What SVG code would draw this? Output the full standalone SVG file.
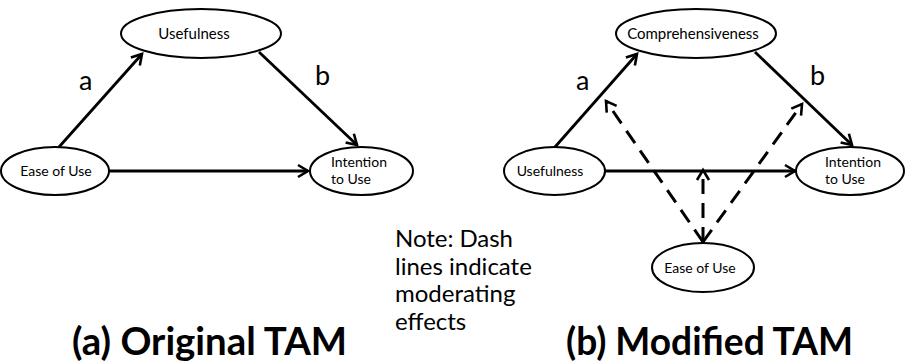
<svg xmlns="http://www.w3.org/2000/svg" width="906" height="363" viewBox="0 0 906 363">
<style>
.node ellipse{fill:#fff;stroke:#000;stroke-width:2}
.t{font-family:Lato,"Liberation Sans",sans-serif;fill:#000}
.small{font-size:14px}
.big{font-size:15px}
.lbl{font-size:27px}
.note{font-size:24px}
.title{font-size:39px;font-weight:bold}
.edge{stroke:#000;stroke-width:2.8;fill:none;marker-end:url(#arr)}
.dash{stroke-dasharray:15 9;stroke-width:3}
</style>
<defs>
<marker id="arr" markerUnits="userSpaceOnUse" markerWidth="16" markerHeight="16" viewBox="0 0 16 16" refX="13" refY="8" orient="auto">
<path d="M3,2 L13,8 L3,14" fill="none" stroke="#000" stroke-width="2.6"/>
</marker>
</defs>
<rect width="906" height="363" fill="#fff"/>
<g id="connectors">
<line class="edge" x1="59" y1="147" x2="142" y2="54"/>
<line class="edge" x1="259" y1="52" x2="357" y2="145"/>
<line class="edge" x1="109" y1="171" x2="308" y2="171"/>
<line class="edge" x1="555" y1="147" x2="637" y2="54"/>
<line class="edge" x1="755" y1="52" x2="852" y2="145"/>
<line class="edge" x1="605" y1="171" x2="795" y2="171"/>
<line class="edge dash" x1="703" y1="242" x2="606" y2="101"/>
<line class="edge dash" x1="703" y1="242" x2="802" y2="104"/>
<line class="edge dash" x1="703" y1="242" x2="703" y2="170"/>
</g>
<g id="a-usefulness" class="node"><ellipse cx="201" cy="33.5" rx="80" ry="24.5"/><text class="t big" x="194" y="39" text-anchor="middle">Usefulness</text></g>
<g id="a-ease" class="node"><ellipse cx="55" cy="171" rx="54" ry="24"/><text class="t small" x="56" y="176" text-anchor="middle">Ease of Use</text></g>
<g id="a-intention" class="node"><ellipse cx="361.5" cy="171" rx="51.5" ry="24"/><text class="t small" x="331" y="167">Intention</text><text class="t small" x="331" y="184">to Use</text></g>
<g id="b-comp" class="node"><ellipse cx="696" cy="33.5" rx="80" ry="24.5"/><text class="t big" x="693" y="39" text-anchor="middle">Comprehensiveness</text></g>
<g id="b-usefulness" class="node"><ellipse cx="554.5" cy="171" rx="50.5" ry="24"/><text class="t small" x="550" y="176" text-anchor="middle">Usefulness</text></g>
<g id="b-intention" class="node"><ellipse cx="850" cy="171" rx="54" ry="24"/><text class="t small" x="825" y="167">Intention</text><text class="t small" x="825" y="184">to Use</text></g>
<g id="b-ease" class="node"><ellipse cx="703" cy="267.5" rx="51" ry="24.5"/><text class="t small" x="700" y="273" text-anchor="middle">Ease of Use</text></g>
<g id="labels">
<text class="t lbl" x="79" y="90">a</text>
<text class="t lbl" x="315" y="85">b</text>
<text class="t lbl" x="576" y="90">a</text>
<text class="t lbl" x="810" y="85">b</text>
<text class="t note" x="395" y="247" textLength="118" lengthAdjust="spacing">Note: Dash</text>
<text class="t note" x="395" y="275">lines indicate</text>
<text class="t note" x="395" y="302">moderating</text>
<text class="t note" x="395" y="330">effects</text>
<text class="t title" x="72" y="355" textLength="275" lengthAdjust="spacingAndGlyphs">(a) Original TAM</text>
<text class="t title" x="566" y="355" textLength="287" lengthAdjust="spacingAndGlyphs">(b) Modified TAM</text>
</g>
</svg>
